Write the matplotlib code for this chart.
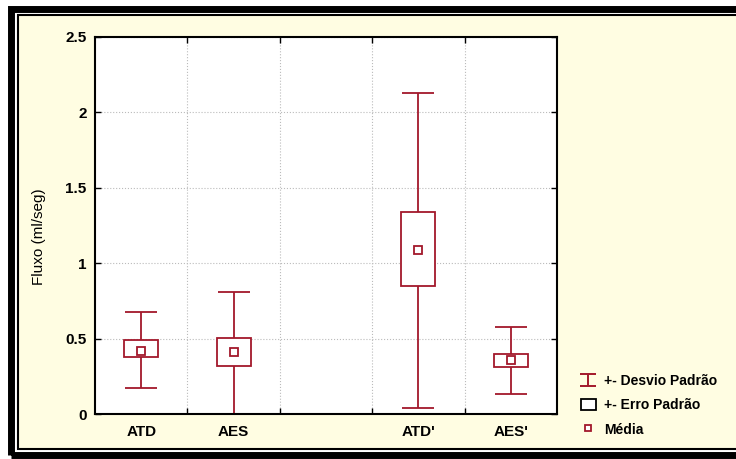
import matplotlib.pyplot as plt
from matplotlib.patches import Rectangle
from matplotlib.lines import Line2D
from matplotlib.path import Path
from matplotlib.ticker import FixedLocator, FuncFormatter

# data (third slot is empty)
positions = [0, 1, 3, 4]
labels = ["ATD", "AES", "ATD'", "AES'"]
media = [0.42, 0.41, 1.09, 0.357]
erro_low = [0.375, 0.32, 0.85, 0.31]
erro_high = [0.49, 0.505, 1.34, 0.40]
desvio_low = [0.17, 0.0, 0.04, 0.13]
desvio_high = [0.675, 0.81, 2.13, 0.58]

red = '#a3182b'
bg = '#fffde2'
font = 'Liberation Sans'

W, H = 736, 459
fig = plt.figure(figsize=(W/100, H/100), dpi=100)
fig.patch.set_facecolor('white')

# frame around the whole picture (pixel positions, y from the bottom)
fig.patches.append(Rectangle((11/W, 4/H), 740/W, 446/H, transform=fig.transFigure,
                             facecolor='none', edgecolor='black', lw=5, zorder=-2))
fig.patches.append(Rectangle((18/W, 10/H), 730/W, 434/H, transform=fig.transFigure,
                             facecolor=bg, edgecolor='black', lw=1.5, zorder=-1))

ax = fig.add_axes([95/W, 45/H, 462/W, 377/H])
ax.set_facecolor('white')

yerr = [[m - l for m, l in zip(media, desvio_low)], [h - m for m, h in zip(media, desvio_high)]]
ax.errorbar(positions, media, yerr=yerr, fmt='none', ecolor=red, elinewidth=1.3,
            capsize=11.5, capthick=1.3, zorder=2)
ax.bar(positions, [h - l for h, l in zip(erro_high, erro_low)], bottom=erro_low, width=0.37,
       facecolor='white', edgecolor=red, linewidth=1.3, zorder=3)
ax.plot(positions, media, ls='none', marker='s', ms=5.5, mfc='white', mec=red, mew=1.3, zorder=4)

ax.set_xlim(-0.5, 4.5)
ax.set_ylim(0, 2.5)
ax.set_xticks(positions)
ax.set_xticklabels(labels)
ax.xaxis.set_minor_locator(FixedLocator([0.5, 1.5, 2.5, 3.5]))
ax.set_yticks([0, 0.5, 1, 1.5, 2, 2.5])
ax.yaxis.set_major_formatter(FuncFormatter(lambda v, p: ('%g' % v)))
ax.tick_params(axis='x', which='major', length=0, pad=8)
ax.tick_params(axis='x', which='minor', direction='in', length=4, top=True, width=1)
ax.tick_params(axis='y', direction='in', length=4, right=True, width=1, pad=6)
for lab in ax.get_xticklabels() + ax.get_yticklabels():
    lab.set_family(font)
    lab.set_fontsize(11)
    lab.set_fontweight('bold')
ax.grid(True, which='minor', axis='x', color='#bbbbbb', ls=':', lw=0.8)
ax.grid(True, which='major', axis='y', color='#bbbbbb', ls=':', lw=0.8)
ax.set_axisbelow(True)
for s in ax.spines.values():
    s.set_linewidth(1.5)
ax.set_ylabel('Fluxo (ml/seg)', family=font, fontsize=11)
ax.yaxis.set_label_coords(-0.105, 0.47)

# legend; I-beam marker for the standard deviation key
ibeam = Path([(-1, 0.85), (1, 0.85), (0, 0.85), (0, -0.85), (-1, -0.85), (1, -0.85)],
             [Path.MOVETO, Path.LINETO, Path.MOVETO, Path.LINETO, Path.MOVETO, Path.LINETO])
handles = [Line2D([], [], ls='none', marker=ibeam, ms=11, mfc='none', mec=red, mew=1.4),
           Rectangle((0, 0), 1, 1, facecolor='white', edgecolor='black', lw=1.3),
           Line2D([], [], ls='none', marker='s', ms=4.5, mfc='white', mec=red, mew=1.3)]
names = ['+- Desvio Padrão', '+- Erro Padrão', 'Média']
leg = fig.legend(handles, names, loc='lower left', bbox_to_anchor=(568/W, 10/H),
                 frameon=False, prop={'family': font, 'size': 10, 'weight': 'bold'},
                 handlelength=1.15, handleheight=0.8, labelspacing=0.75, handletextpad=0.55)

fig.savefig('out.png', dpi=100, facecolor=fig.get_facecolor())
